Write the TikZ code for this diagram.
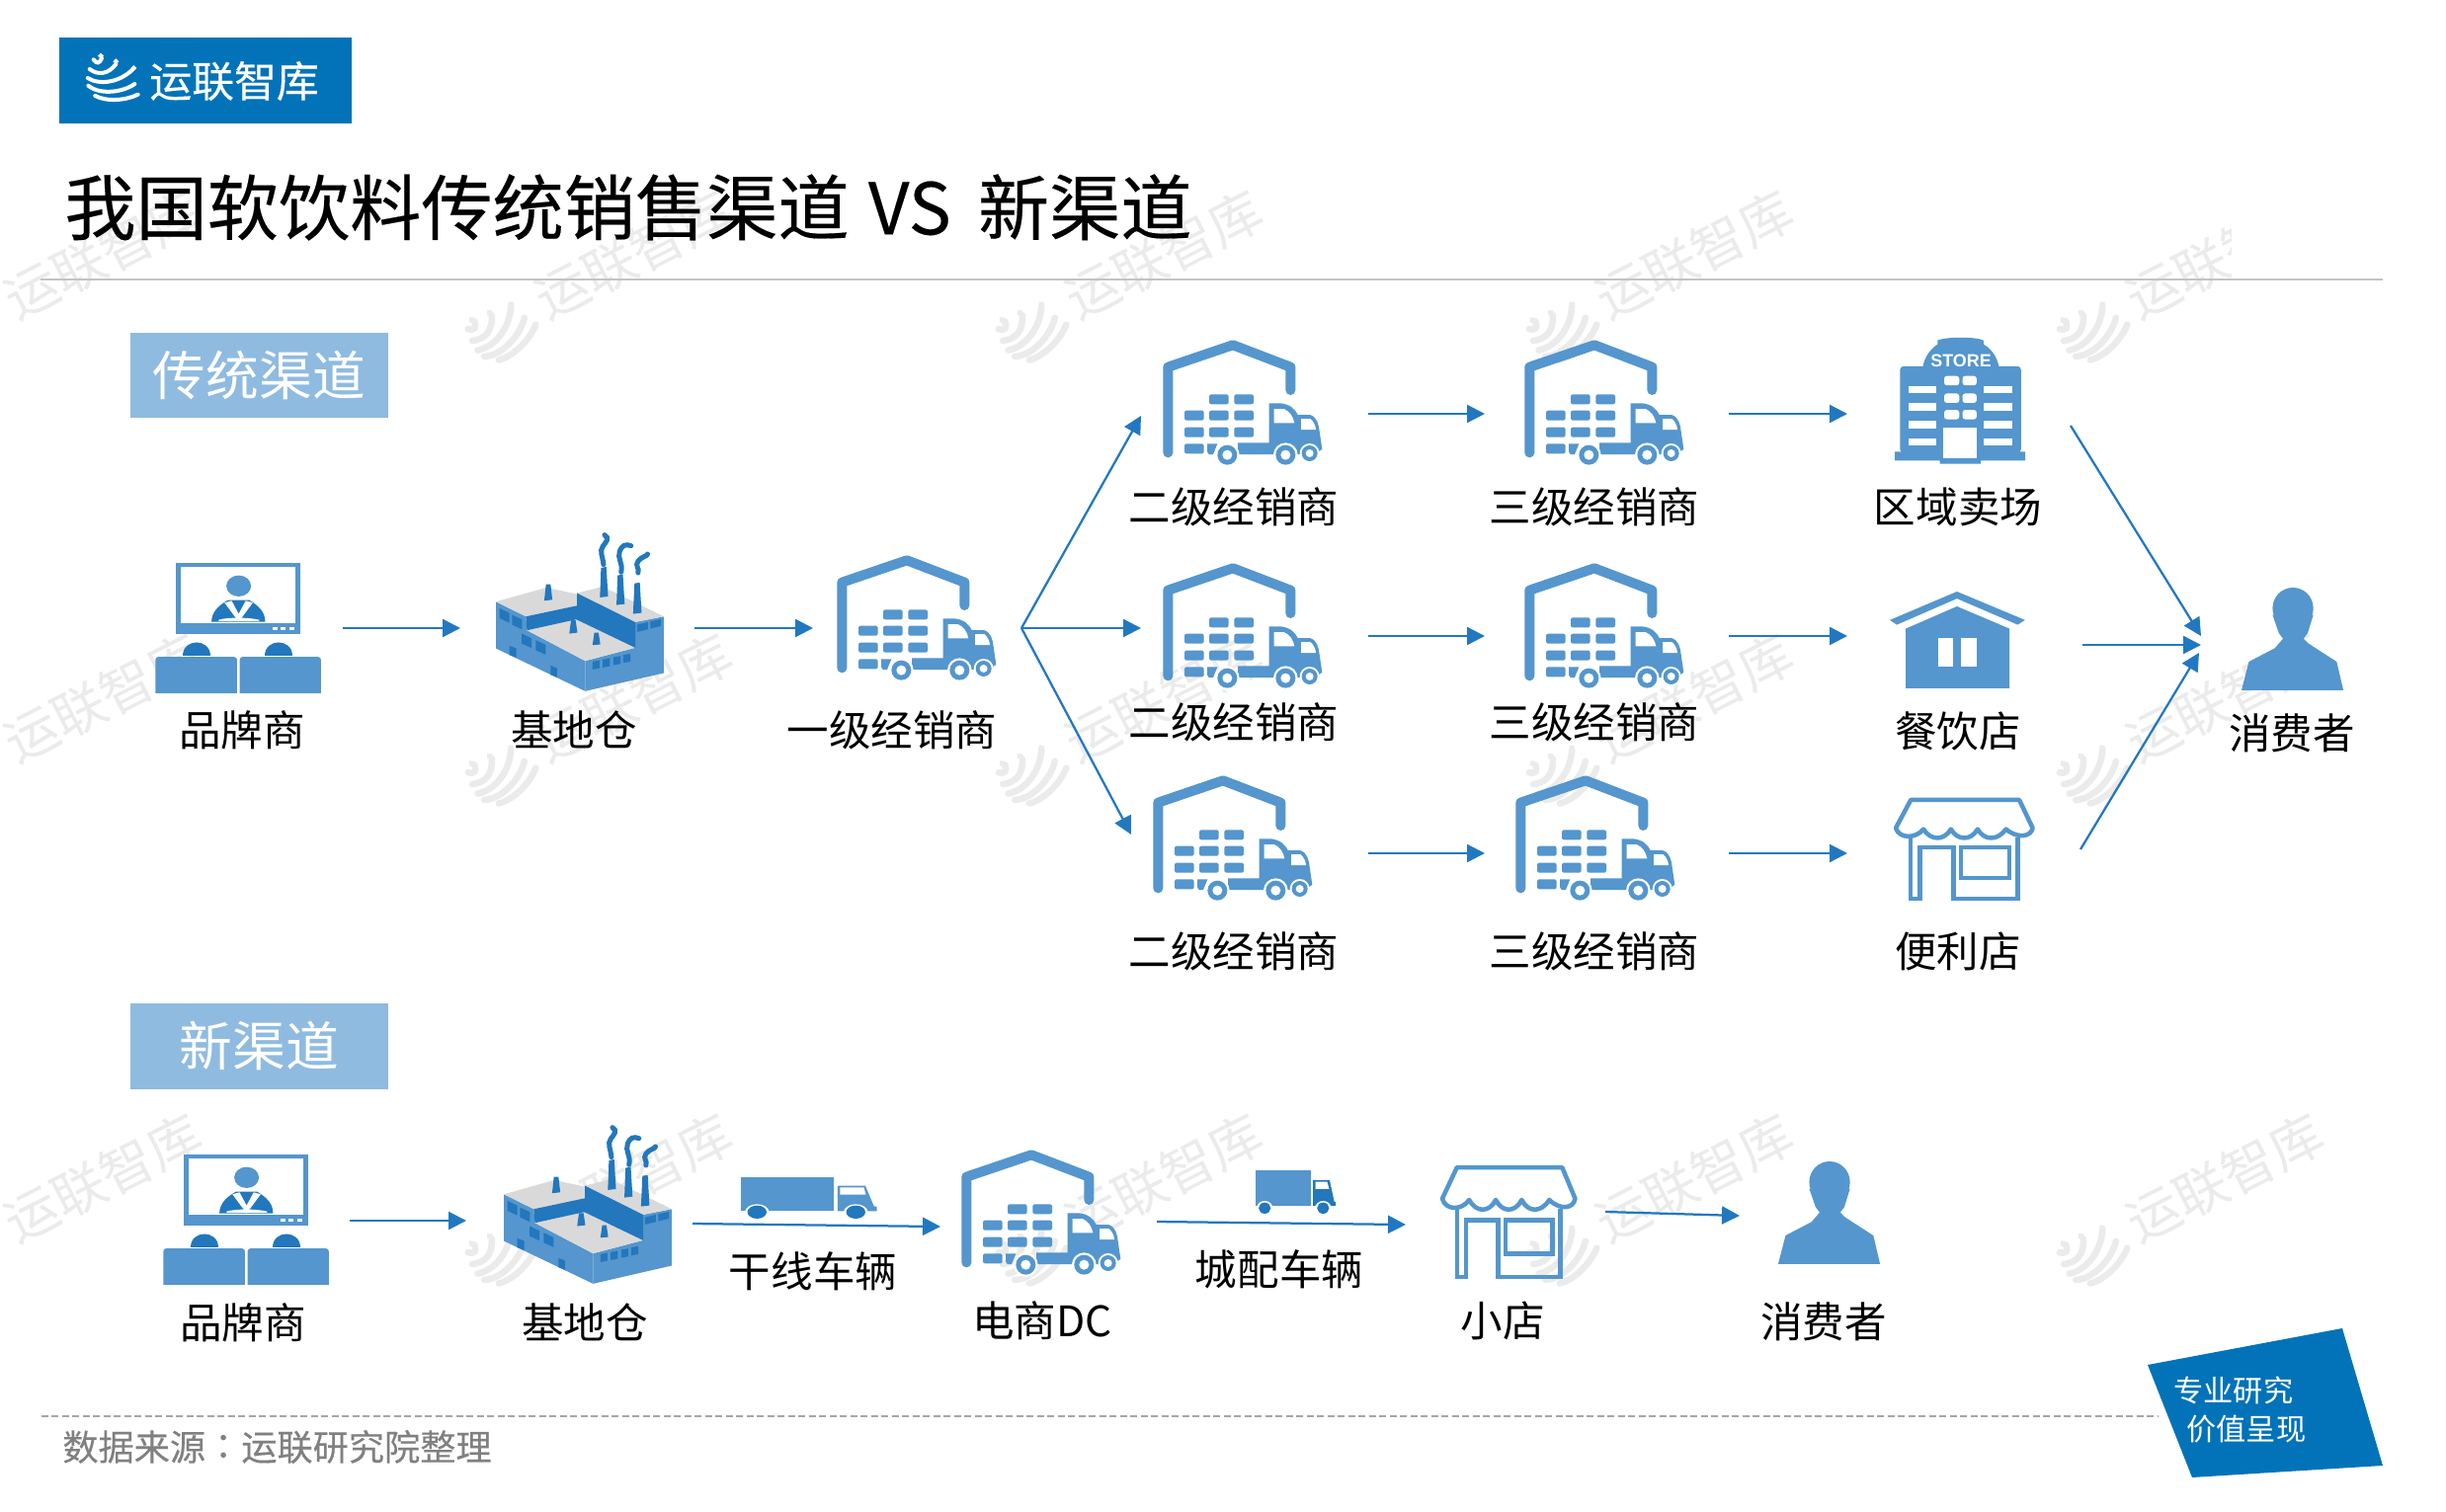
\documentclass[tikz,border=0pt]{standalone}
\usepackage{fontspec}
\setmainfont{Noto Sans CJK SC}
\newfontfamily\latinbold{Liberation Sans}
\newfontfamily\tcfont{Noto Sans CJK TC}
\newfontfamily\heavyfont[FakeBold=0.25]{Noto Sans CJK SC}
\usetikzlibrary{arrows.meta}
\definecolor{iconlight}{HTML}{5496CD}
\definecolor{icondark}{HTML}{2277BD}
\definecolor{arrowblue}{HTML}{2278C0}
\definecolor{brandblue}{HTML}{0273B8}
\definecolor{sectionblue}{HTML}{8FBBE0}
\definecolor{roofgrey}{HTML}{D9D9D9}
\definecolor{markgrey}{HTML}{EBEBEB}
\definecolor{footgrey}{HTML}{808080}
\tikzset{
  x=0.02cm,y=-0.02cm,
  lab/.style={inner sep=0pt,text=black,font=\fontsize{24.2}{28}\selectfont},
  conn/.style={draw=arrowblue,line width=0.045cm,-{Triangle[length=0.36cm,width=0.36cm]}},
  sectionbox/.style={fill=sectionblue,draw=none,inner sep=0pt,text=white,font=\fontsize{30.6}{36}\selectfont,minimum width=5.24cm,minimum height=1.74cm},
  wmark/.style={text=markgrey,inner sep=0pt,rotate=27,font=\fontsize{30.6}{36}\selectfont},
  pics/warehouse/.style={code={
    \begin{scope}[scale=1/3,shift={(-235,-72)}]
      \draw[iconlight,line width=0.2cm,line cap=round,line join=round] (248,415)--(248,155)--(445,88)--(620,155)--(620,225);
      \foreach \cx/\cy in {373/238,449/238,298/287,373/287,449/287,298/338,373/338,449/338,298/388}
        \fill[iconlight,rounded corners=1.2pt] (\cx,\cy) rectangle ++(59,30);
      \fill[iconlight] (367,388)--(398,388)--(385,420)--(372,420)--(367,412)--cycle;
      \fill[iconlight,line join=round] (460,385)--(555,385)--(555,265)--(590,265) .. controls (620,268) and (635,285) .. (642,300)--(678,300) .. controls (700,305) and (706,330) .. (708,350)--(716,405)--(690,420)--(460,420)--cycle;
      \fill[white] (570,282)--(600,282) .. controls (618,290) and (628,305) .. (632,325)--(570,325)--cycle;
      \fill[white] (652,312)--(680,312) .. controls (690,320) and (696,332) .. (697,345)--(652,345)--cycle;
      \fill[white] (428,422) circle[radius=37];
      \fill[white] (605,422) circle[radius=37];
      \fill[white] (678,417) circle[radius=30];
      \fill[iconlight] (428,422) circle[radius=30];
      \fill[iconlight] (605,422) circle[radius=30];
      \fill[iconlight] (678,417) circle[radius=24];
      \fill[white] (428,422) circle[radius=15];
      \fill[white] (605,422) circle[radius=15];
      \fill[white] (678,417) circle[radius=12];
    \end{scope}}},
  pics/screenicon/.style={code={
    \begin{scope}[xscale=.357,yscale=.333,shift={(-75,-117)}]
      \fill[iconlight] (135,117) rectangle (487,333);
      \fill[white] (148,130) rectangle (472,300);
      \foreach \dx in {407,431,455} \fill[white] (\dx,313) rectangle ++(15,7);
      \fill[iconlight] (312,187) circle[x radius=35,y radius=32];
      \fill[icondark] (235,296) .. controls (235,262) and (262,242) .. (282,230)--(342,230) .. controls (365,245) and (388,265) .. (387,296)--cycle;
      \fill[white] (272,238)--(312,296)--(352,238)--(332,232)--(312,272)--(292,232)--cycle;
      \fill[white] (255,290) .. controls (280,282) and (340,282) .. (370,290)--(370,294)--(255,294)--cycle;
      \fill[icondark] (154,400) .. controls (154,345) and (232,345) .. (232,400)--cycle;
      \fill[icondark] (386,400) .. controls (386,345) and (465,345) .. (465,400)--cycle;
      \fill[iconlight,rounded corners=1.5pt] (76,530)--(76,403)--(307,403)--(307,530)--cycle;
      \fill[iconlight,rounded corners=1.5pt] (315,530)--(315,403)--(545,403)--(545,530)--cycle;
      \fill[white] (70,513) rectangle (550,535);
    \end{scope}}},
  pics/factoryicon/.style={code={
    \begin{scope}[xscale=.357,yscale=.333,shift={(-1042,-30)}]
      \fill[iconlight] (1042,238)--(1127,283)--(1130,325)--(1295,418)--(1295,510)--(1042,380)--cycle;
      \fill[iconlight] (1295,418)--(1437,378)--(1437,300)--(1518,283)--(1518,455)--(1295,510)--cycle;
      \fill[roofgrey] (1042,238)--(1185,195)--(1272,215)--(1272,250)--(1127,283)--cycle;
      \fill[roofgrey] (1272,212)--(1345,192)--(1518,283)--(1437,300)--cycle;
      \fill[roofgrey] (1130,325)--(1270,292)--(1437,378)--(1295,418)--cycle;
      \fill[icondark] (1127,283)--(1272,250)--(1272,212)--(1437,300)--(1437,378)--(1270,292)--(1130,325)--cycle;
      \foreach \wx/\wy in {1052/258,1088/278,1115/335,1155/355}
        \fill[icondark] (\wx,\wy)--++(28,14)--++(0,30)--++(-28,-14)--cycle;
      \fill[icondark] (1080,372)--(1100,380)--(1100,408)--(1080,400)--cycle;
      \fill[icondark] (1197,432)--(1215,440)--(1215,468)--(1197,460)--cycle;
      \foreach \wx/\wy in {1316/420,1345/414,1375/407,1403/400}
        \fill[icondark] (\wx,\wy)--++(20,-4)--++(0,24)--++(-20,4)--cycle;
      \fill[icondark] (1442,308)--(1473,300)--(1473,322)--(1442,330)--cycle;
      \fill[icondark] (1480,298)--(1510,291)--(1510,312)--(1480,320)--cycle;
      \fill[icondark] (1340,135)--(1355,132)--(1360,222)--(1337,225)--cycle;
      \fill[icondark] (1387,158)--(1402,155)--(1407,245)--(1384,248)--cycle;
      \fill[icondark] (1435,182)--(1450,180)--(1455,272)--(1431,275)--cycle;
      \fill[icondark] (1184,185)--(1197,185)--(1202,232)--(1179,235)--cycle;
      \fill[icondark] (1255,295)--(1268,295)--(1273,332)--(1250,335)--cycle;
      \fill[icondark] (1321,332)--(1333,332)--(1338,368)--(1316,370)--cycle;
      \draw[icondark,line width=0.1cm,line cap=round] (1347,125) .. controls (1345,100) and (1335,85) .. (1345,70) .. controls (1355,55) and (1365,45) .. (1350,35);
      \draw[icondark,line width=0.1cm,line cap=round] (1397,148) .. controls (1403,120) and (1385,105) .. (1393,85) .. controls (1400,65) and (1410,62) .. (1425,68);
      \draw[icondark,line width=0.1cm,line cap=round] (1445,150) .. controls (1450,135) and (1435,130) .. (1445,115) .. controls (1455,100) and (1472,100) .. (1472,93);
    \end{scope}}},
  pics/storeicon/.style={code={
    \begin{scope}[xscale=.338,yscale=.395,shift={(-112,-55)}]
      \fill[iconlight,rounded corners=2pt] (128,350)--(128,128)--(490,128)--(490,350)--cycle;
      \fill[iconlight] (195,135) .. controls (200,100) and (225,80) .. (240,72)--(240,62) .. controls (260,52) and (360,52) .. (378,62)--(378,72) .. controls (395,80) and (420,100) .. (425,135)--cycle;
      \fill[iconlight] (112,347)--(503,347)--(503,370)--(370,370)--(370,378)--(247,378)--(247,370)--(112,370)--cycle;
      \foreach \wy in {178,222,267,312} {
        \fill[white] (152,\wy) rectangle ++(85,20);
        \fill[white] (378,\wy) rectangle ++(85,20);}
      \foreach \wy in {153,198,240} {
        \fill[white,rounded corners=1.5pt] (260,\wy) rectangle ++(45,24);
        \fill[white,rounded corners=1.5pt] (315,\wy) rectangle ++(42,24);}
      \fill[white] (258,285) rectangle (357,365);
    \end{scope}
    \node[inner sep=0pt,text=white,font=\latinbold\bfseries\fontsize{10.2}{11}\selectfont] (storeword) at (67,23) {STORE};
    }},
  pics/houseicon/.style={code={
    \begin{scope}[xscale=.338,yscale=.395,shift={(-97,-707)}]
      \fill[iconlight] (97,780)--(298,707)--(502,780)--(480,792)--(298,725)--(118,792)--cycle;
      \fill[iconlight] (145,802)--(298,745)--(455,802)--(455,955)--(145,955)--cycle;
      \fill[white] (242,825) rectangle (285,900);
      \fill[white] (310,825) rectangle (357,900);
    \end{scope}}},
  pics/shopicon/.style 2 args={code={
    \begin{scope}[xscale=#1,yscale=#2,shift={(-112,-1235)}]
      \draw[iconlight,line width=0.09cm,line join=round,line cap=round] (160,1240)--(485,1240)--(525,1312) .. controls (520,1335) and (480,1340) .. (445,1315) .. controls (420,1345) and (380,1345) .. (360,1315) .. controls (340,1345) and (300,1345) .. (280,1315) .. controls (260,1345) and (220,1345) .. (198,1315) .. controls (175,1340) and (125,1340) .. (115,1312)--cycle;
      \draw[iconlight,line width=0.09cm] (160,1335)--(160,1493)--(188,1493)--(188,1362)--(288,1362)--(288,1493)--(480,1493)--(480,1335);
      \draw[iconlight,line width=0.09cm] (310,1362) rectangle (455,1440);
    \end{scope}}},
  pics/personicon/.style={code={
    \begin{scope}[xscale=.338,yscale=.395,shift={(-1150,-695)}]
      \fill[iconlight] (1304,748) circle[x radius=61,y radius=53];
      \fill[iconlight] (1243,765)--(1262,812)--(1280,832)--(1330,832)--(1348,812)--(1365,765)--cycle;
      \fill[iconlight] (1150,958)--(1172,885)--(1250,850)--(1275,825)--(1335,825)--(1350,838)--(1435,885)--(1455,958)--cycle;
    \end{scope}}},
  pics/longtruck/.style={code={
    \begin{scope}[xscale=.51,yscale=.333,shift={(-138,-152)}]
      \fill[iconlight] (138,152) rectangle (322,255);
      \fill[iconlight] (330,178)--(385,178)--(402,240)--(408,242)--(408,255)--(330,255)--cycle;
      \fill[white] (335,183)--(382,183)--(386,205)--(335,205)--cycle;
      \fill[white] (170,258) circle[x radius=24,y radius=24];
      \fill[white] (366,258) circle[x radius=24,y radius=24];
      \fill[icondark] (170,258) circle[x radius=19,y radius=20];
      \fill[icondark] (366,258) circle[x radius=19,y radius=20];
    \end{scope}}},
  pics/shorttruck/.style={code={
    \begin{scope}[xscale=.51,yscale=.333,shift={(-1158,-135)}]
      \fill[iconlight] (1158,135) rectangle (1267,243);
      \fill[icondark] (1272,165)--(1305,165)--(1314,230)--(1317,232)--(1317,243)--(1272,243)--cycle;
      \fill[white] (1277,170)--(1300,170)--(1304,192)--(1277,192)--cycle;
      \fill[white] (1176,250) circle[x radius=16,y radius=22];
      \fill[white] (1292,250) circle[x radius=16,y radius=22];
      \fill[icondark] (1176,250) circle[x radius=12,y radius=17];
      \fill[icondark] (1292,250) circle[x radius=12,y radius=17];
    \end{scope}}},
  pics/swirl/.style n args={4}{code={
    \begin{scope}[rotate=#4,scale=#3/3,shift={(-215,-185)}]
      \draw[#1,line width=#2,line cap=round] (160,126) .. controls (170,140) and (178,138) .. (185,122);
      \draw[#1,line width=#2,line cap=round] (148,155) .. controls (175,175) and (205,170) .. (228,140);
      \draw[#1,line width=#2,line cap=round] (142,182) .. controls (180,205) and (240,195) .. (280,155);
      \draw[#1,line width=#2,line cap=round] (144,205) .. controls (180,235) and (250,225) .. (285,200);
      \draw[#1,line width=#2,line cap=round] (165,236) .. controls (200,255) and (260,250) .. (295,232);
      \foreach \sx/\sy in {182/115,228/132,282/152}
        \fill[#1] (\sx,\sy-9)--(\sx+9,\sy)--(\sx,\sy+9)--(\sx-9,\sy)--cycle;
    \end{scope}}}
}
\begin{document}
\begin{tikzpicture}
\fill[white] (0,0) rectangle (2476,1531);
\useasboundingbox (0,0) rectangle (2476,1531);
% watermarks
\begin{scope}
\clip (0,190) rectangle (2258,1531);
\foreach \wx/\wy [count=\wi] in {104/258,641/258,1178/258,1715/258,2252/258}
  \node[wmark] (wa\wi) at (\wx,\wy) {运联智库};
\end{scope}
\foreach \wx/\wy [count=\wi] in {104/707,641/707,1178/707,1715/707,2252/707,104/1193,641/1193,1178/1193,1715/1193,2252/1193}
  \node[wmark] (wb\wi) at (\wx,\wy) {运联智库};
\foreach \wx/\wy in {506/336,1043/336,1580/336,2117/336,506/785,1043/785,1580/785,2117/785,506/1271,1043/1271,1580/1271,2117/1271}
  \pic at (\wx,\wy) {swirl={markgrey}{0.13cm}{1.2}{42}};
% header
\fill[brandblue] (60,38) rectangle (356,125);
\pic at (113,80) {swirl={white}{0.08cm}{1}{0}};
\node[anchor=west,inner sep=0pt,text=white,font=\heavyfont\fontsize{24.4}{28}\selectfont] (logotext) at (151,82) {运联智库};
\node[anchor=west,inner sep=0pt,text=black,font=\heavyfont\fontsize{41.1}{48}\selectfont] (title) at (65,210) {我国软饮料传统销售渠道\hspace{11pt}VS\hspace{15.5pt}新渠道};
\draw[roofgrey!90!black,line width=0.03cm] (41,283)--(2412,283);
% section tags
\node[sectionbox] (oldtag) at (262.5,380) {传统渠道};
\node[sectionbox] (newtag) at (262.5,1059) {新渠道};
% icons, traditional channel
\pic at (157,570) {screenicon};
\pic at (502,540) {factoryicon};
\pic at (848,562) {warehouse};
\pic at (1178,344) {warehouse};
\pic at (1544,344) {warehouse};
\pic at (1178,570) {warehouse};
\pic at (1544,570) {warehouse};
\pic at (1168,785) {warehouse};
\pic at (1535,785) {warehouse};
\pic at (1918,342) {storeicon};
\pic at (1913,599) {houseicon};
\pic at (1918,808) {shopicon={.338}{.395}};
\pic at (2269,595) {personicon};
% icons, new channel
\pic at (165,1169) {screenicon};
\pic at (510,1140) {factoryicon};
\pic at (750,1192) {longtruck};
\pic at (974,1164) {warehouse};
\pic at (1271,1185) {shorttruck};
\pic at (1459,1180) {shopicon={.328}{.437}};
\pic at (1800,1176) {personicon};
% labels
\node[lab] (l1) at (245,739) {品牌商};
\node[lab] (l2) at (581,739) {基地仓};
\node[lab] (l3) at (903,739) {一级经销商};
\node[lab] (l4) at (1249,513) {二级经销商};
\node[lab] (l5) at (1614,513) {三级经销商};
\node[lab] (l6) at (1982,513) {区域卖场};
\node[lab] (l7) at (1249,731) {二级经销商};
\node[lab] (l8) at (1614,731) {三级经销商};
\node[lab] (l9) at (1982,740) {餐饮店};
\node[lab] (l10) at (2320,742) {消费者};
\node[lab] (l11) at (1249,963) {二级经销商};
\node[lab] (l12) at (1614,963) {三级经销商};
\node[lab] (l13) at (1982,963) {便利店};
\node[lab] (l14) at (246,1339) {品牌商};
\node[lab] (l15) at (592,1339) {基地仓};
\node[lab] (l16) at (823,1287) {干线车辆};
\node[lab] (l17) at (1055,1337) {电商DC};
\node[lab] (l18) at (1295,1285) {城配车辆};
\node[lab] (l19) at (1521,1337) {小店};
\node[lab] (l20) at (1846,1338) {消费者};
% connector end points
\coordinate (brandA) at (347,636);
\coordinate (baseAin) at (466,636);
\coordinate (baseAout) at (703,636);
\coordinate (firstin) at (823,636);
\coordinate (firstout) at (1034,636);
\coordinate (s1in) at (1155,421);
\coordinate (s2in) at (1155,636);
\coordinate (s3in) at (1145,845);
\coordinate (s1out) at (1385,419);
\coordinate (s2out) at (1385,644);
\coordinate (s3out) at (1385,864);
\coordinate (t1in) at (1503,419);
\coordinate (t2in) at (1503,644);
\coordinate (t3in) at (1503,864);
\coordinate (t1out) at (1750,419);
\coordinate (t2out) at (1750,644);
\coordinate (t3out) at (1750,864);
\coordinate (r1in) at (1870,419);
\coordinate (r2in) at (1870,644);
\coordinate (r3in) at (1870,864);
\coordinate (r1out) at (2096,431);
\coordinate (r2out) at (2108,653);
\coordinate (r3out) at (2106,860);
\coordinate (c1) at (2228,644);
\coordinate (c2) at (2228,653);
\coordinate (c3) at (2226,661);
\coordinate (brandB) at (354,1236);
\coordinate (baseBin) at (472,1236);
\coordinate (baseBout) at (701,1239);
\coordinate (dcin) at (952,1242);
\coordinate (dcout) at (1171,1237);
\coordinate (shopin) at (1423,1240);
\coordinate (shopout) at (1625,1227);
\coordinate (personin) at (1761,1231);
\draw[conn] (brandA)--(baseAin);
\draw[conn] (baseAout)--(firstin);
\draw[conn] (firstout)--(s1in);
\draw[conn] (firstout)--(s2in);
\draw[conn] (firstout)--(s3in);
\draw[conn] (s1out)--(t1in);
\draw[conn] (s2out)--(t2in);
\draw[conn] (s3out)--(t3in);
\draw[conn] (t1out)--(r1in);
\draw[conn] (t2out)--(r2in);
\draw[conn] (t3out)--(r3in);
\draw[conn] (r1out)--(c1);
\draw[conn] (r2out)--(c2);
\draw[conn] (r3out)--(c3);
\draw[conn] (brandB)--(baseBin);
\draw[conn] (baseBout)--(dcin);
\draw[conn] (dcout)--(shopin);
\draw[conn] (shopout)--(personin);
% footer
\draw[gray!70,line width=0.03cm,dash pattern=on 0.14cm off 0.07cm] (42,1434)--(2185,1434);
\node[anchor=west,inner sep=0pt,text=footgrey,font=\heavyfont\fontsize{20.6}{24}\selectfont] (source) at (63,1465) {数据来源{\tcfont：}运联研究院整理};
\fill[brandblue] (2174,1382)--(2371,1345)--(2412,1484)--(2219,1496)--cycle;
\node[anchor=west,inner sep=0pt,text=white,font=\fontsize{17.2}{20}\selectfont] (slogan1) at (2200,1408) {专业研究};
\node[anchor=west,inner sep=0pt,text=white,font=\fontsize{17.2}{20}\selectfont] (slogan2) at (2213,1447) {价值呈现};
\end{tikzpicture}
\end{document}
